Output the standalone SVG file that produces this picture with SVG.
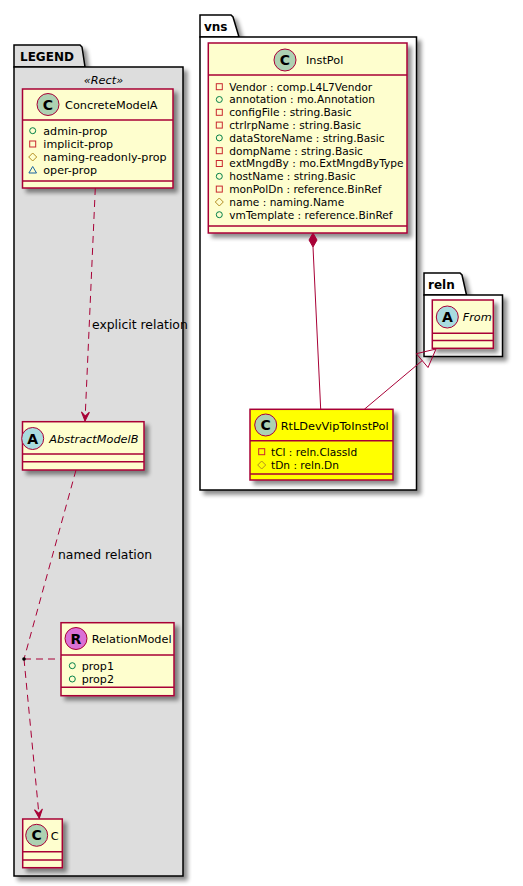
<svg xmlns="http://www.w3.org/2000/svg" width="523" height="886" viewBox="0 0 523 886">
<defs>
<style>
.cls{fill:#FEFECE;stroke:#A80036;stroke-width:1.5}
.yel{fill:#FFFF00;stroke:#A80036;stroke-width:1.5}
.div{stroke:#A80036;stroke-width:1.5;fill:none}
.pkg{stroke:#000;stroke-width:1.5}
.name{font-family:"DejaVu Sans",sans-serif;font-size:11.3px;fill:#000}
.it{font-style:italic}
.attr{font-family:"DejaVu Sans",sans-serif;font-size:10.6px;fill:#000}
.lattr{font-size:11.1px}
.ptitle{font-family:"DejaVu Sans",sans-serif;font-size:12px;font-weight:bold;fill:#000}
.lbl{font-family:"DejaVu Sans",sans-serif;font-size:12.4px;fill:#000}
.spot{stroke:#A80036;stroke-width:1}
.spotL{font-family:"DejaVu Sans",sans-serif;font-size:14px;font-weight:bold;fill:#000;text-anchor:middle}
.pub{fill:none;stroke:#038048;stroke-width:1}
.pri{fill:none;stroke:#C82930;stroke-width:1}
.pro{fill:none;stroke:#B38D22;stroke-width:1}
.pkgv{fill:none;stroke:#1963A0;stroke-width:1}
.edge{fill:none;stroke:#A80036;stroke-width:1}
.dash{stroke-dasharray:7,5}
</style>
<filter id="sh" x="-10%" y="-10%" width="130%" height="130%">
<feGaussianBlur in="SourceAlpha" stdDeviation="2"/>
<feOffset dx="4" dy="4" result="o"/>
<feComponentTransfer><feFuncA type="linear" slope="0.45"/></feComponentTransfer>
<feMerge><feMergeNode/><feMergeNode in="SourceGraphic"/></feMerge>
</filter>
<marker id="arr" markerUnits="userSpaceOnUse" viewBox="-10 -5 11 10" refX="0" refY="0" markerWidth="11" markerHeight="10" orient="auto">
<path d="M0,0 L-9,-4 L-5,0 L-9,4 Z" fill="#A80036" stroke="#A80036" stroke-width="1"/>
</marker>
</defs>
<rect width="523" height="886" fill="#FFFFFF"/>

<!-- packages -->
<g id="pkg-legend">
<g filter="url(#sh)">
<path class="pkg" fill="#DDDDDD" d="M14,67 L14,45 L80,45 L82,47 L85,67 Z"/>
<rect class="pkg" fill="#DDDDDD" x="14" y="67" width="169" height="809"/>
</g>
<text class="ptitle" x="20" y="61">LEGEND</text>
<text class="name it" x="103.5" y="84" text-anchor="middle">«Rect»</text>
</g>
<g id="pkg-vns">
<g filter="url(#sh)">
<path class="pkg" fill="#FFFFFF" d="M200,37 L200,15 L231,15 L233,17 L239,37 Z"/>
<rect class="pkg" fill="#FFFFFF" x="200" y="37" width="216.5" height="453"/>
</g>
<text class="ptitle" x="204" y="31">vns</text>
</g>
<g id="pkg-reln">
<g filter="url(#sh)">
<path class="pkg" fill="#FFFFFF" d="M424,295 L424,273 L460,273 L462,275 L466.5,295 Z"/>
<rect class="pkg" fill="#FFFFFF" x="424" y="295" width="78.5" height="61.5"/>
</g>
<text class="ptitle" x="428" y="289">reln</text>
</g>

<!-- ConcreteModelA -->
<g id="ConcreteModelA">
<rect class="cls" x="22.5" y="89" width="150.5" height="99" filter="url(#sh)"/>
<path class="div" d="M22.5,120 H173 M22.5,181 H173"/>
<circle class="spot" cx="48" cy="104.5" r="11" fill="#ADD1B2"/>
<text class="spotL" x="48" y="109.5">C</text>
<text class="name" x="65" y="109">ConcreteModelA</text>
<circle class="pub" cx="32.7" cy="130.7" r="3"/>
<text class="attr lattr" x="43.3" y="134.6">admin-prop</text>
<rect class="pri" x="29.7" y="141" width="6" height="6"/>
<text class="attr lattr" x="43.3" y="147.7">implicit-prop</text>
<path class="pro" d="M32.7,153 L36.7,157 L32.7,161 L28.7,157 Z"/>
<text class="attr lattr" x="43.3" y="160.8">naming-readonly-prop</text>
<path class="pkgv" d="M32.7,166.5 L36.5,173 L28.9,173 Z"/>
<text class="attr lattr" x="43.3" y="173.9">oper-prop</text>
</g>

<!-- AbstractModelB -->
<g id="AbstractModelB">
<rect class="cls" x="22.5" y="421.7" width="121.5" height="48.3" filter="url(#sh)"/>
<path class="div" d="M22.5,454 H144 M22.5,461.7 H144"/>
<circle class="spot" cx="32.7" cy="438.5" r="11" fill="#A9DCDF"/>
<text class="spotL" x="32.7" y="443.5">A</text>
<text class="name it" x="49.3" y="442.5">AbstractModelB</text>
</g>

<!-- RelationModel -->
<g id="RelationModel">
<rect class="cls" x="61" y="622.7" width="113" height="73" filter="url(#sh)"/>
<path class="div" d="M61,655 H174 M61,687.3 H174"/>
<circle class="spot" cx="76" cy="638.5" r="11" fill="#DA70D6"/>
<text class="spotL" x="76" y="643.5">R</text>
<text class="name" x="91.7" y="643">RelationModel</text>
<circle class="pub" cx="72.3" cy="665.7" r="3"/>
<text class="attr lattr" x="81.7" y="669.6">prop1</text>
<circle class="pub" cx="72.3" cy="679" r="3"/>
<text class="attr lattr" x="81.7" y="682.9">prop2</text>
</g>

<!-- C -->
<g id="C">
<rect class="cls" x="22.7" y="819" width="39.6" height="48.7" filter="url(#sh)"/>
<path class="div" d="M22.7,851.7 H62.3 M22.7,860 H62.3"/>
<circle class="spot" cx="36.7" cy="835.3" r="11" fill="#ADD1B2"/>
<text class="spotL" x="36.7" y="840.3">C</text>
<text class="name" x="50.7" y="839.5">C</text>
</g>

<!-- InstPol -->
<g id="InstPol">
<rect class="cls" x="208.3" y="43" width="198.7" height="190" filter="url(#sh)"/>
<path class="div" d="M208.3,75 H407 M208.3,226 H407"/>
<circle class="spot" cx="285" cy="60" r="11" fill="#ADD1B2"/>
<text class="spotL" x="285" y="65">C</text>
<text class="name" x="306" y="63.5">InstPol</text>
<rect class="pri" x="216.3" y="83.7" width="6" height="6"/>
<text class="attr" x="229.3" y="90.5">Vendor : comp.L4L7Vendor</text>
<circle class="pub" cx="219.3" cy="99.5" r="3"/>
<text class="attr" x="229.3" y="103.3">annotation : mo.Annotation</text>
<rect class="pri" x="216.3" y="109.3" width="6" height="6"/>
<text class="attr" x="229.3" y="116.1">configFile : string.Basic</text>
<rect class="pri" x="216.3" y="122.1" width="6" height="6"/>
<text class="attr" x="229.3" y="128.9">ctrlrpName : string.Basic</text>
<circle class="pub" cx="219.3" cy="137.9" r="3"/>
<text class="attr" x="229.3" y="141.7">dataStoreName : string.Basic</text>
<rect class="pri" x="216.3" y="147.7" width="6" height="6"/>
<text class="attr" x="229.3" y="154.5">dompName : string.Basic</text>
<rect class="pri" x="216.3" y="160.5" width="6" height="6"/>
<text class="attr" x="229.3" y="167.3">extMngdBy : mo.ExtMngdByType</text>
<circle class="pub" cx="219.3" cy="176.3" r="3"/>
<text class="attr" x="229.3" y="180.1">hostName : string.Basic</text>
<rect class="pri" x="216.3" y="186.1" width="6" height="6"/>
<text class="attr" x="229.3" y="192.9">monPolDn : reference.BinRef</text>
<path class="pro" d="M219.3,198 L223.3,202 L219.3,206 L215.3,202 Z"/>
<text class="attr" x="229.3" y="205.7">name : naming.Name</text>
<circle class="pub" cx="219.3" cy="214.7" r="3"/>
<text class="attr" x="229.3" y="218.5">vmTemplate : reference.BinRef</text>
</g>

<!-- RtLDevVipToInstPol -->
<g id="RtLDevVipToInstPol">
<rect class="yel" x="250" y="409.3" width="143" height="70.7" filter="url(#sh)"/>
<path class="div" d="M250,440.7 H393 M250,474 H393"/>
<circle class="spot" cx="265.7" cy="425" r="11" fill="#ADD1B2"/>
<text class="spotL" x="265.7" y="430">C</text>
<text class="name" x="280.7" y="429.5">RtLDevVipToInstPol</text>
<rect class="pri" x="258.7" y="448.7" width="6" height="6"/>
<text class="attr" x="271" y="455.5">tCl : reln.ClassId</text>
<path class="pro" d="M261.7,461 L265.7,465 L261.7,469 L257.7,465 Z"/>
<text class="attr" x="271" y="468.8">tDn : reln.Dn</text>
</g>

<!-- From -->
<g id="From">
<rect class="cls" x="432.3" y="300" width="61" height="48.3" filter="url(#sh)"/>
<path class="div" d="M432.3,333.3 H493.3 M432.3,340.5 H493.3"/>
<circle class="spot" cx="447.3" cy="317" r="11" fill="#A9DCDF"/>
<text class="spotL" x="447.3" y="322">A</text>
<text class="name it" x="462.7" y="321">From</text>
</g>

<!-- connectors -->
<g id="connectors">
<path class="edge dash" d="M95.3,188 L85,421" marker-end="url(#arr)"/>
<path class="edge dash" d="M76,470 L24,659"/>
<path class="edge dash" d="M24,659 L61,659"/>
<path class="edge dash" d="M24,659 L39.3,818.3" marker-end="url(#arr)"/>
<circle cx="24" cy="659" r="1.8" fill="#000"/>
<path class="edge" d="M313,247 L320.7,409.3"/>
<polygon points="313,233 309,240 313,247 317,240" fill="#A80036" stroke="#A80036" stroke-width="1"/>
<path class="edge" d="M364.3,409.3 L422.2,360.6"/>
<polygon points="436,349 428,367.5 416.4,353.7" fill="none" stroke="#A80036" stroke-width="1"/>
<text class="lbl" x="92" y="328.5">explicit relation</text>
<text class="lbl" x="58" y="558.5">named relation</text>
</g>
</svg>
